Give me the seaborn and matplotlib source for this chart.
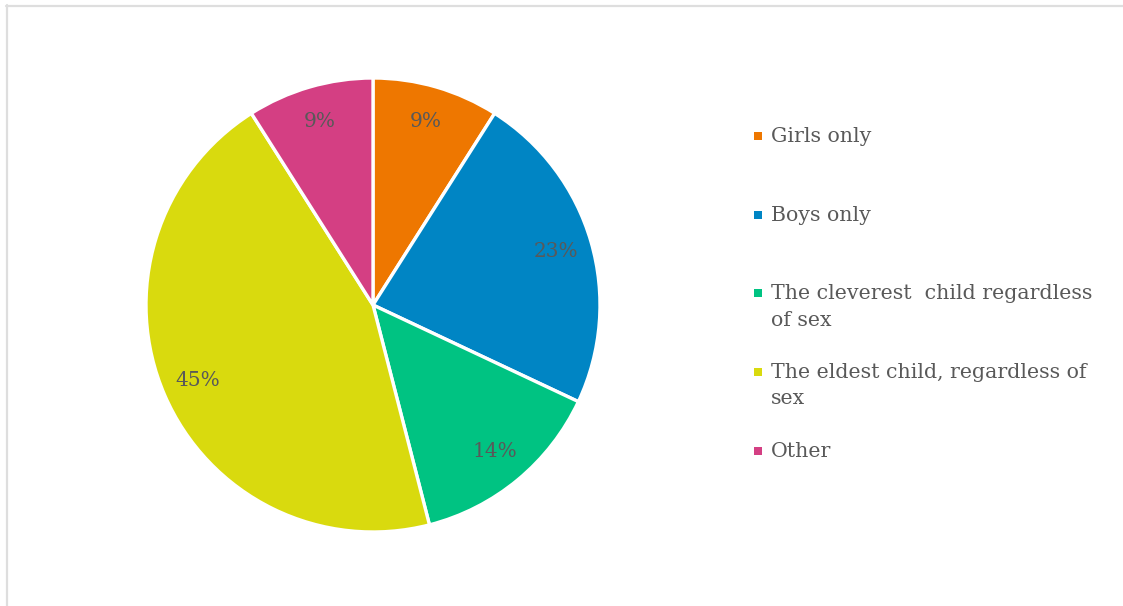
import matplotlib
matplotlib.use("Agg")
import matplotlib.pyplot as plt
from matplotlib.lines import Line2D
from matplotlib.patches import Rectangle
import seaborn as sns

# Survey answers: which child should inherit
categories = [
    "Girls only",
    "Boys only",
    "The cleverest  child regardless\nof sex",
    "The eldest child, regardless of\nsex",
    "Other",
]
shares = [9, 23, 14, 45, 9]
slice_colors = ["#EE7700", "#0085C4", "#00C382", "#D9DA0E", "#D43F83"]

sns.set_theme(style="white")
plt.rcParams["font.family"] = ["DejaVu Serif", "DejaVu Sans"]

W, H = 1123, 606
fig = plt.figure(figsize=(W / 100, H / 100), dpi=100)
fig.patch.set_facecolor("white")

# pie axes: centre (373, 305) px, radius 227 px
cx, cy, r = 373, 305, 227
ax = fig.add_axes([(cx - r) / W, (H - cy - r) / H, 2 * r / W, 2 * r / H])
ax.set_aspect("equal")

wedges, _, autotexts = ax.pie(
    shares,
    colors=slice_colors,
    startangle=90,
    counterclock=False,
    radius=1.0,
    autopct=lambda p: f"{p:.0f}%",
    pctdistance=0.84,
    wedgeprops=dict(edgecolor="white", linewidth=2.4),
    textprops=dict(color="#595959", fontsize=14.5),
)
ax.set_xlim(-1.0, 1.0)
ax.set_ylim(-1.0, 1.0)
ax.axis("off")

# legend drawn by hand: marker square + label, one row per category
legend_rows_px = [136, 215, 293, 372, 451]
marker_x, text_x, sq = 758, 771, 8
for label, color, ypx in zip(categories, slice_colors, legend_rows_px):
    fig.patches.append(
        Rectangle(((marker_x - sq / 2) / W, (H - ypx - sq / 2) / H), sq / W, sq / H,
                  transform=fig.transFigure, facecolor=color, edgecolor="none")
    )
    fig.text(text_x / W, (H - ypx + 9) / H, label, color="#595959", fontsize=14.8,
             va="top", ha="left", linespacing=1.5, transform=fig.transFigure)

# light frame along the top and left edges
frame = "#DEDEDE"
fig.lines.append(Line2D([6 / W, 1.0], [1 - 5.5 / H, 1 - 5.5 / H], transform=fig.transFigure,
                        color=frame, linewidth=1.6))
fig.lines.append(Line2D([6.5 / W, 6.5 / W], [0, 1 - 5 / H], transform=fig.transFigure,
                        color=frame, linewidth=1.6))

fig.savefig("out.png", dpi=100, facecolor="white")
